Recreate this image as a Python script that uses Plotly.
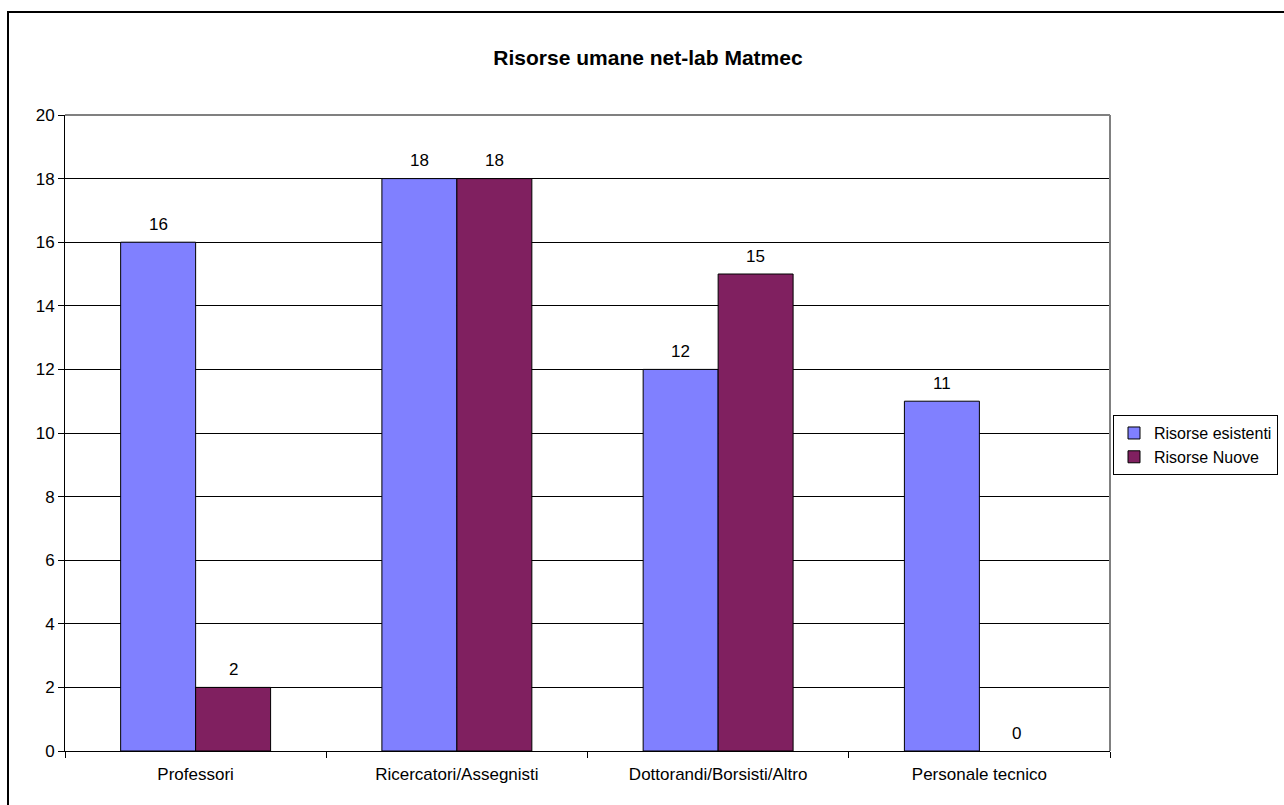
import plotly.graph_objects as go

categories = ["Professori", "Ricercatori/Assegnisti", "Dottorandi/Borsisti/Altro", "Personale tecnico"]
esistenti = [16, 18, 12, 11]
nuove = [2, 18, 15, 0]
series_names = ["Risorse esistenti", "Risorse Nuove"]
series_colors = ["#8080FF", "#802060"]
title = "Risorse umane net-lab Matmec"

font = "Liberation Sans, Arial, sans-serif"
L, R, T, B = 65, 174, 115, 54
W, H = 1284, 805
plot_w = W - L - R
bargap = 0.426
bar_w = plot_w / len(categories) * (1 - bargap) / 2

fig = go.Figure()
annotations = []
for i, (vals, name, col) in enumerate(zip([esistenti, nuove], series_names, series_colors)):
    fig.add_trace(go.Bar(
        x=categories, y=vals, name=name,
        marker=dict(color=col, line=dict(color="black", width=[1 if v > 0 else 0 for v in vals])),
    ))
    shift = (i - 0.5) * bar_w
    for c, v in zip(categories, vals):
        annotations.append(dict(x=c, y=v, xref="x", yref="y", text=str(v), showarrow=False,
                                xshift=shift, yshift=18, yanchor="middle",
                                font=dict(size=17, family=font, color="black")))

fig.update_layout(
    width=W, height=H,
    margin=dict(l=L, r=R, t=T, b=B, autoexpand=False),
    paper_bgcolor="white", plot_bgcolor="white",
    font=dict(family=font, size=17, color="black"),
    barmode="group", bargap=bargap, bargroupgap=0,
    title=dict(text="<b>" + title + "</b>", x=648 / W,
               xanchor="center", y=1 - 58 / H, yanchor="middle",
               font=dict(size=21, family=font, color="black")),
    legend=dict(x=(1113 - L) / plot_w, xanchor="left", y=0.481, yanchor="middle",
                bordercolor="black", borderwidth=1, bgcolor="white",
                font=dict(size=16, family=font), tracegroupgap=0,
                itemwidth=30),
    showlegend=True,
    annotations=annotations,
    xaxis=dict(type="category", tickson="boundaries", ticks="outside", ticklen=6,
               tickcolor="black", showline=True, linecolor="black", linewidth=1,
               showgrid=False, mirror=False, tickfont=dict(size=17), ticklabelstandoff=8),
    yaxis=dict(range=[0, 20], dtick=2, ticks="outside", ticklen=6, tickcolor="black",
               showline=True, linecolor="black", linewidth=1, gridcolor="black",
               gridwidth=1, zeroline=False, tickfont=dict(size=17)),
    shapes=[
        dict(type="line", xref="paper", yref="paper", x0=0, x1=1, y0=1, y1=1,
             line=dict(color="#808080", width=2)),
        dict(type="line", xref="paper", yref="paper", x0=1, x1=1, y0=0, y1=1,
             line=dict(color="#808080", width=2)),
        dict(type="rect", xref="paper", yref="paper",
             x0=(8 - L) / plot_w, x1=(1290 - L) / plot_w,
             y0=(751 - 812) / (H - T - B), y1=(751 - 12) / (H - T - B),
             line=dict(color="black", width=2), layer="above"),
    ],
)

fig.write_html("out.html")
